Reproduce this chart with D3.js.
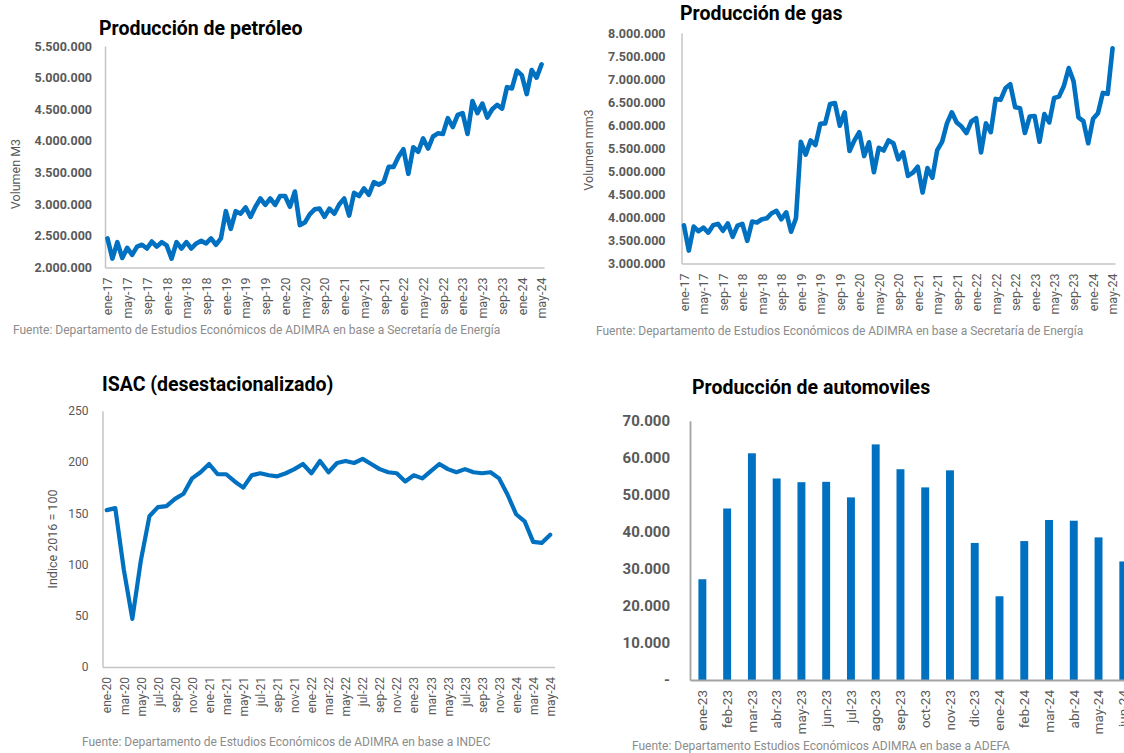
<!DOCTYPE html>
<html>
<head>
<meta charset="utf-8">
<script src="https://cdn.jsdelivr.net/npm/d3@7"></script>
<style>
  body { margin: 0; background: #fff; }
  svg { display: block; font-family: Roboto, "Open Sans", sans-serif; }
  .title { font-size: 19.5px; font-weight: 700; fill: #000; }
  .source { font-size: 12px; fill: #8c8c8c; }
  .axis-title { font-size: 12.5px; fill: #595959; }
  .domain { stroke: #c4c4c4; stroke-width: 1.5px; }
  .bars .domain { stroke: #a3a3a3; stroke-width: 1.8px; }
  .y-label { font-size: 12.5px; font-weight: 700; fill: #595959; }
  .y-label.light { font-size: 12px; font-weight: 400; }
  .y-label.big { font-size: 15px; }
  .x-label { font-size: 12.5px; fill: #595959; }
  .x-label.small { font-size: 12px; }
  .x-label.big { font-size: 13.5px; }
  .series { fill: none; stroke: #0070c0; stroke-linejoin: round; stroke-linecap: round; }
  .bar { fill: #0070c0; }
</style>
</head>
<body>
<svg width="1124" height="753"></svg>
<script>
// set global constants
const svg = d3.select("svg");

const monthNames = ["ene", "feb", "mar", "abr", "may", "jun", "jul", "ago", "sep", "oct", "nov", "dic"];

// oil production (m3), ene-17 to may-24
const petroleo = [
  2460000, 2140000, 2400000, 2150000, 2310000, 2200000, 2330000, 2360000, 2300000, 2410000,
  2330000, 2400000, 2350000, 2140000, 2400000, 2300000, 2400000, 2300000, 2380000, 2420000,
  2380000, 2460000, 2360000, 2460000, 2890000, 2610000, 2890000, 2850000, 2950000, 2800000,
  2960000, 3090000, 2990000, 3090000, 2990000, 3130000, 3130000, 2960000, 3200000, 2670000,
  2710000, 2840000, 2920000, 2930000, 2800000, 2930000, 2850000, 3000000, 3090000, 2820000,
  3180000, 3130000, 3250000, 3150000, 3350000, 3310000, 3350000, 3590000, 3590000, 3750000,
  3870000, 3480000, 3900000, 3830000, 4040000, 3880000, 4070000, 4120000, 4110000, 4360000,
  4220000, 4410000, 4440000, 4110000, 4630000, 4440000, 4590000, 4370000, 4500000, 4570000,
  4510000, 4850000, 4830000, 5110000, 5040000, 4740000, 5120000, 5000000, 5210000
];

// gas production (mm3), ene-17 to may-24
const gas = [
  3830000, 3280000, 3800000, 3700000, 3780000, 3670000, 3830000, 3860000, 3710000, 3870000,
  3580000, 3820000, 3860000, 3490000, 3910000, 3890000, 3960000, 3980000, 4090000, 4140000,
  3960000, 4110000, 3690000, 3980000, 5640000, 5360000, 5670000, 5570000, 6030000, 6040000,
  6460000, 6480000, 5990000, 6280000, 5440000, 5670000, 5850000, 5330000, 5630000, 4980000,
  5510000, 5450000, 5670000, 5610000, 5260000, 5410000, 4900000, 4970000, 5100000, 4540000,
  5070000, 4860000, 5460000, 5640000, 6040000, 6280000, 6060000, 5970000, 5830000, 6080000,
  6150000, 5410000, 6040000, 5850000, 6570000, 6550000, 6800000, 6890000, 6390000, 6370000,
  5830000, 6190000, 6200000, 5640000, 6240000, 6060000, 6590000, 6620000, 6850000, 7240000,
  6950000, 6170000, 6090000, 5610000, 6140000, 6260000, 6700000, 6680000, 7670000
];

// ISAC index (2016 = 100), ene-20 to may-24
const isac = [
  153, 155, 95, 47, 104, 147, 156, 157, 164, 169,
  184, 190, 198, 188, 188, 181, 175, 187, 189, 187,
  186, 189, 193, 198, 189, 201, 190, 199, 201, 199,
  203, 198, 193, 190, 189, 181, 187, 184, 191, 198,
  193, 190, 193, 190, 189, 190, 184, 168, 149, 142,
  122, 121, 129
];

// car production (units), ene-23 to jun-24
const autos = [
  27200, 46300, 61200, 54400, 53400, 53500, 49300, 63600, 56900,
  52000, 56600, 37000, 22600, 37500, 43200, 43000, 38500, 32000
];

const petroleoTicks = [2000000, 2500000, 3000000, 3500000, 4000000, 4500000, 5000000, 5500000];
const gasTicks = [3000000, 3500000, 4000000, 4500000, 5000000, 5500000, 6000000, 6500000, 7000000, 7500000, 8000000];
const isacTicks = [0, 50, 100, 150, 200, 250];
const autosTicks = [0, 10000, 20000, 30000, 40000, 50000, 60000, 70000];

const es = d3.formatLocale({ decimal: ",", thousands: ".", grouping: [3], currency: ["$", ""] });
const fmt = es.format(",d");

// month labels like "ene-17"
function months(startYear, count) {
  return d3.range(count).map(i => {
    return monthNames[i % 12] + "-" + (startYear + Math.floor(i / 12));
  });
}

// shared pieces of each panel
function frame(p) {
  svg.append("text")
    .attr("class", "title")
    .attr("x", p.titleX)
    .attr("y", p.titleY)
    .text(p.title);

  svg.append("text")
    .attr("class", "source")
    .attr("x", p.sourceX)
    .attr("y", p.sourceY)
    .text(p.source);

  if (p.axisTitle) {
    svg.append("text")
      .attr("class", "axis-title")
      .attr("text-anchor", "middle")
      .attr("transform", "translate(" + p.axisTitleX + "," + p.axisTitleY + ") rotate(-90)")
      .attr("dy", "0.35em")
      .text(p.axisTitle);
  }
}

function axes(g, x, y, p) {
  g.append("g")
    .attr("transform", "translate(" + p.xRange[0] + ",0)")
    .call(d3.axisLeft(y).tickValues(p.yTicks).tickSize(0).tickSizeOuter(0).tickPadding(p.yPad).tickFormat(p.format))
    .attr("font-size", null)
    .attr("font-family", null)
    .selectAll("text")
    .attr("class", "y-label " + (p.yClass || ""));

  g.append("g")
    .attr("transform", "translate(0," + p.yRange[0] + ")")
    .call(d3.axisBottom(x).tickValues(p.cats.filter((d, i) => i % p.every === 0)).tickSize(0).tickSizeOuter(0))
    .attr("font-size", null)
    .attr("font-family", null)
    .selectAll("text")
    .attr("class", "x-label " + (p.xClass || ""))
    .attr("transform", "rotate(-90)")
    .attr("text-anchor", "end")
    .attr("x", -10)
    .attr("y", 0)
    .attr("dy", "0.35em");
}

function drawLine(p) {
  frame(p);
  const g = svg.append("g");
  const x = d3.scalePoint().domain(p.cats).range(p.xRange).padding(0.5);
  const y = d3.scaleLinear().domain(p.yDomain).range(p.yRange);
  axes(g, x, y, p);

  g.append("path")
    .datum(p.values)
    .attr("class", "series")
    .attr("stroke-width", p.lineWidth)
    .attr("d", d3.line()
      .x((d, i) => { return x(p.cats[i]); })
      .y(d => { return y(d); }));
}

// append oil panel
drawLine({
  title: "Producción de petróleo", titleX: 99, titleY: 34.5,
  source: "Fuente: Departamento de Estudios Económicos de ADIMRA en base a Secretaría de Energía",
  sourceX: 13, sourceY: 334,
  axisTitle: "Volumen M3", axisTitleX: 16, axisTitleY: 174,
  cats: months(17, petroleo.length), values: petroleo, every: 4,
  xRange: [105, 544], yRange: [267.5, 46], yDomain: [2000000, 5500000],
  yTicks: petroleoTicks, yPad: 13, format: fmt, lineWidth: 4.6
});

// append gas panel
drawLine({
  title: "Producción de gas", titleX: 680, titleY: 20,
  source: "Fuente: Departamento de Estudios Económicos de ADIMRA en base a Secretaría de Energía",
  sourceX: 596, sourceY: 335,
  axisTitle: "Volumen mm3", axisTitleX: 589, axisTitleY: 150,
  cats: months(17, gas.length), values: gas, every: 4,
  xRange: [681.5, 1115], yRange: [263.5, 33], yDomain: [3000000, 8000000],
  yTicks: gasTicks, yPad: 16, format: fmt, lineWidth: 4.6
});

// append ISAC panel
drawLine({
  title: "ISAC (desestacionalizado)", titleX: 102, titleY: 391,
  source: "Fuente: Departamento de Estudios Económicos de ADIMRA en base a INDEC",
  sourceX: 82, sourceY: 746,
  axisTitle: "Indice 2016 = 100", axisTitleX: 53, axisTitleY: 539,
  cats: months(20, isac.length), values: isac, every: 2,
  xRange: [102.5, 554.5], yRange: [667, 410.7], yDomain: [0, 250],
  yTicks: isacTicks, yPad: 14, format: fmt, lineWidth: 4.2,
  yClass: "light", xClass: "small"
});

// append car production panel
const autosPanel = {
  title: "Producción de automoviles", titleX: 692, titleY: 394,
  source: "Fuente: Departamento Estudios Económicos ADIMRA en base a ADEFA",
  sourceX: 632, sourceY: 750,
  cats: months(23, autos.length), every: 1,
  xRange: [690, 690 + 18 * 24.76], yRange: [680, 420.7], yDomain: [0, 70000],
  yTicks: autosTicks, yPad: 20,
  format: d => { return d === 0 ? "-" : fmt(d); },
  yClass: "big", xClass: "big"
};

frame(autosPanel);

const xBar = d3.scaleBand()
  .domain(autosPanel.cats)
  .range(autosPanel.xRange)
  .paddingInner(0.68)
  .paddingOuter(0.34);

const yBar = d3.scaleLinear()
  .domain(autosPanel.yDomain)
  .range(autosPanel.yRange);

const barG = svg.append("g").attr("class", "bars");

barG.selectAll("rect")
  .data(autos)
  .enter()
  .append("rect")
  .attr("class", "bar")
  .attr("x", (d, i) => { return xBar(autosPanel.cats[i]); })
  .attr("y", d => { return yBar(d); })
  .attr("width", xBar.bandwidth())
  .attr("height", d => { return yBar(0) - yBar(d); });

axes(barG, xBar, yBar, autosPanel);
</script>
</body>
</html>
